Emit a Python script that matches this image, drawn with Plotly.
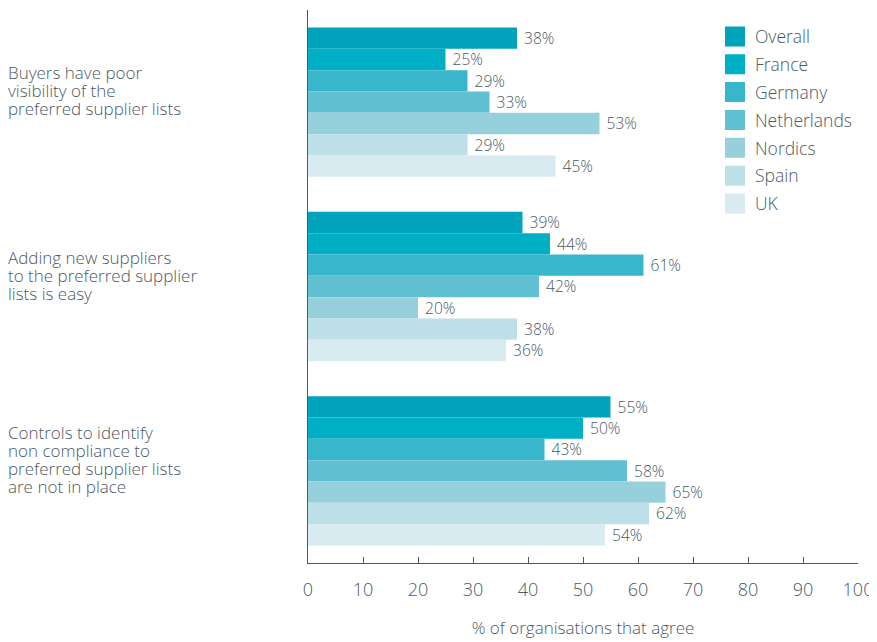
import plotly.graph_objects as go

categories = [
    "Buyers have poor<br>visibility of the<br>preferred supplier lists",
    "Adding new suppliers<br>to the preferred supplier<br>lists is easy",
    "Controls to identify<br>non compliance to<br>preferred supplier lists<br>are not in place",
]
series_names = ["Overall", "France", "Germany", "Netherlands", "Nordics", "Spain", "UK"]
overall = [38, 39, 55]
france = [25, 44, 50]
germany = [29, 61, 43]
netherlands = [33, 42, 58]
nordics = [53, 20, 65]
spain = [29, 38, 62]
uk = [45, 36, 54]
series_values = [overall, france, germany, netherlands, nordics, spain, uk]
colors = ["#00A2BC", "#00AFC6", "#38B6CC", "#61C0D2", "#97D0DD", "#BDE0E8", "#D7EBF0"]
x_ticks = [0, 10, 20, 30, 40, 50, 60, 70, 80, 90, 100]

TEXT = "#4B5A64"
FONT = "Open Sans"
W = 300

fig = go.Figure()
ids = list(range(len(categories)))
for name, vals, col in zip(series_names, series_values, colors):
    fig.add_trace(go.Bar(
        y=ids, x=vals, orientation="h", name=name,
        marker=dict(color=col, line=dict(width=0)),
        text=[f"\u00a0{v}%" for v in vals], textposition="outside",
        textfont=dict(size=19, color=TEXT, family=FONT, weight=W),
        cliponaxis=False, showlegend=False,
    ))
    fig.add_trace(go.Scatter(
        x=[None], y=[None], mode="markers", name=name, legendgroup=name,
        marker=dict(symbol="square", size=16, color=col, line=dict(color=col, width=4)),
        showlegend=True,
    ))

LINE_H = 18
for i, c in enumerate(categories):
    lines = c.split("<br>")
    n = len(lines)
    for j, ln in enumerate(lines):
        fig.add_annotation(
            x=-0.5475, xref="paper", y=i, yref="y", text=ln, showarrow=False,
            xanchor="left", yanchor="middle", align="left", borderpad=0,
            yshift=11.5 + (n - 1) / 2 * LINE_H - j * LINE_H,
            font=dict(size=17, color=TEXT, family=FONT, weight=W),
        )

fig.update_layout(
    width=869, height=634,
    margin=dict(l=300, r=19, t=2, b=79),
    plot_bgcolor="white", paper_bgcolor="white",
    barmode="group", bargap=0.19, bargroupgap=0,
    font=dict(family=FONT, color=TEXT, size=16, weight=W),
    legend=dict(x=0.74, y=0.9846, xanchor="left", yanchor="top",
                font=dict(size=17.5, color=TEXT, family=FONT, weight=W),
                itemsizing="trace", tracegroupgap=2.1, traceorder="grouped",
                bgcolor="rgba(0,0,0,0)"),
    xaxis=dict(range=[0, 100], tickvals=x_ticks, ticks="inside", ticklen=6,
               tickcolor=TEXT, showline=True, linecolor=TEXT, linewidth=1,
               showgrid=False, zeroline=False, ticklabelstandoff=10,
               tickfont=dict(size=18, color=TEXT, family=FONT, weight=W),
               title=dict(text="% of organisations that agree",
                          font=dict(size=17, color=TEXT, family=FONT, weight=W), standoff=22)),
    yaxis=dict(range=[2.5, -0.5], showticklabels=False, ticks="",
               showline=True, linecolor=TEXT, linewidth=1, showgrid=False,
               zeroline=False),
)

fig.write_html("out.html")
